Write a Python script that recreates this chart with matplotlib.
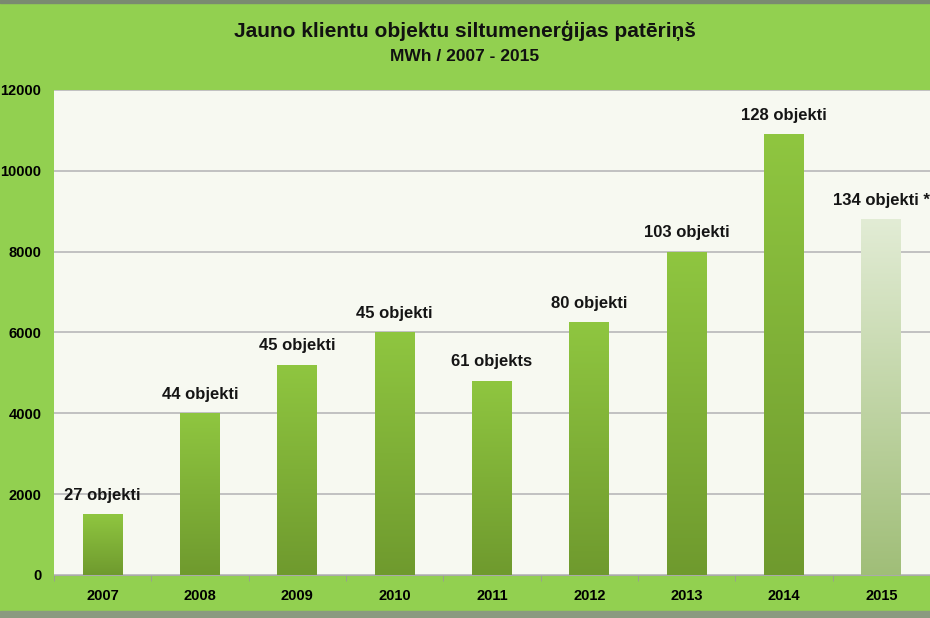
import numpy as np
import matplotlib.pyplot as plt
from matplotlib.colors import to_rgb
from matplotlib.patches import Rectangle

#=================
# data
#=================
years = ["2007", "2008", "2009", "2010", "2011", "2012", "2013", "2014", "2015"]
consumption = [1500, 4000, 5200, 6000, 4800, 6250, 8000, 10900, 8800]
bar_labels = ["27 objekti", "44 objekti", "45 objekti", "45 objekti", "61 objekts",
              "80 objekti", "103 objekti", "128 objekti", "134 objekti *"]
y_ticks = [0, 2000, 4000, 6000, 8000, 10000, 12000]

title = "Jauno klientu objektu siltumenerģijas patēriņš"
subtitle = "MWh / 2007 - 2015"

#=================
# style
#=================
plt.rcParams["font.family"] = ["Liberation Sans", "DejaVu Sans"]

bg_green = "#92d050"
panel = "#f7f9f1"

fig = plt.figure(figsize=(9.3, 6.18), dpi=100, facecolor=bg_green)
ax = fig.add_axes([0.058, 0.0696, 0.942, 0.785])
ax.set_facecolor(panel)

# borders of the picture
fig.patches.append(Rectangle((0, 0.995), 1, 0.005, transform=fig.transFigure,
                             color="#7a8a70", zorder=0))
fig.patches.append(Rectangle((0, 0), 1, 0.011, transform=fig.transFigure,
                             color="#8a9a80", zorder=0))


def gradient_bar(ax, x, h, width, top_color, bottom_color):
    bar = ax.bar(x, h, width=width, color="none", edgecolor="none", zorder=3)[0]
    top = np.array(to_rgb(top_color))
    bottom = np.array(to_rgb(bottom_color))
    t = np.linspace(0, 1, 256)[:, None]
    img = (top * (1 - t) + bottom * t)[:, None, :]
    im = ax.imshow(img, extent=(x - width / 2, x + width / 2, 0, h),
                   aspect="auto", zorder=3, origin="upper")
    im.set_clip_path(bar)


x = np.arange(len(years))
for i, v in enumerate(consumption):
    if i == len(years) - 1:
        gradient_bar(ax, x[i], v, 0.41, "#e2ecd5", "#a0be78")
    else:
        gradient_bar(ax, x[i], v, 0.41, "#8fc640", "#6f9a2e")
    ax.text(x[i], v + 470, bar_labels[i], ha="center", va="center",
            fontsize=12, fontweight="bold", color="#151515", zorder=4)

ax.set_xlim(-0.5, 8.48)
ax.set_ylim(0, 12000)
ax.set_yticks(y_ticks)
ax.set_yticklabels([str(t) for t in y_ticks], fontsize=10.5, fontweight="bold")
ax.set_xticks(x)
ax.set_xticklabels(years, fontsize=10.5, fontweight="bold")
ax.set_xticks(np.arange(len(years) + 1) - 0.5, minor=True)
ax.tick_params(axis="y", length=0, pad=9)
ax.tick_params(axis="x", which="major", length=0, pad=10)
ax.tick_params(axis="x", which="minor", length=4, color="#999999")
ax.grid(axis="y", color="#bdbdbd", linewidth=1.3, zorder=1)
ax.set_axisbelow(True)
for side in ["top", "right", "left"]:
    ax.spines[side].set_visible(False)
ax.spines["bottom"].set_color("#aaaaaa")

fig.text(0.5, 0.951, title, ha="center", va="center", fontsize=15, fontweight="bold",
         color="#111111")
fig.text(0.5, 0.909, subtitle, ha="center", va="center", fontsize=12.5, fontweight="bold",
         color="#111111")

fig.savefig("out.png", dpi=100, facecolor=bg_green)
